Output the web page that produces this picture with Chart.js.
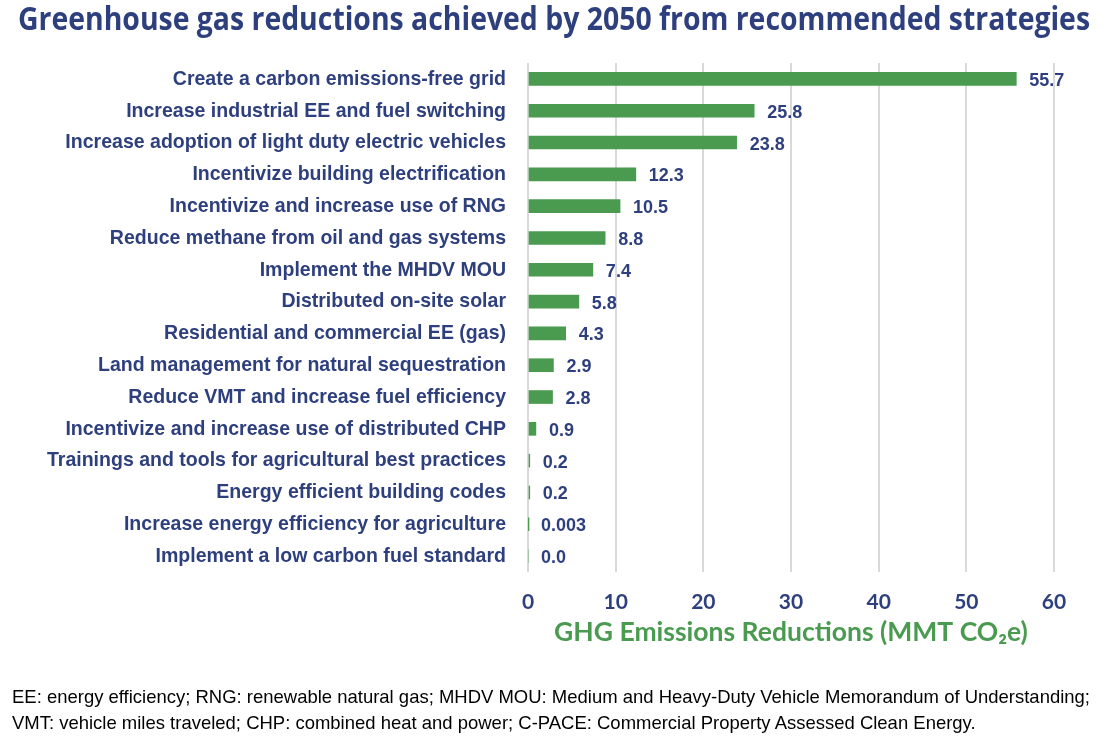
<!DOCTYPE html>
<html>
<head>
<meta charset="utf-8">
<script src="https://cdn.jsdelivr.net/npm/chart.js@4"></script>
<style>
html,body{margin:0;padding:0;background:#fff;}
#wrap{position:relative;width:1109px;height:747px;overflow:hidden;}
#foot{position:absolute;left:12px;top:684px;font-family:"Liberation Sans",Arial,sans-serif;font-size:19px;line-height:26px;color:#000;white-space:nowrap;transform-origin:0 0;}
</style>
</head>
<body>
<div id="wrap">
<canvas id="c" width="1109" height="747"></canvas>
<div id="foot"><span id="f1">EE: energy efficiency; RNG: renewable natural gas; MHDV MOU: Medium and Heavy-Duty Vehicle Memorandum of Understanding;</span><br>VMT: vehicle miles traveled; CHP: combined heat and power; C-PACE: Commercial Property Assessed Clean Energy.</div>
</div>
<script>
const chartTitle = "Greenhouse gas reductions achieved by 2050 from recommended strategies";
const categories = [
  "Create a carbon emissions-free grid",
  "Increase industrial EE and fuel switching",
  "Increase adoption of light duty electric vehicles",
  "Incentivize building electrification",
  "Incentivize and increase use of RNG",
  "Reduce methane from oil and gas systems",
  "Implement the MHDV MOU",
  "Distributed on-site solar",
  "Residential and commercial EE (gas)",
  "Land management for natural sequestration",
  "Reduce VMT and increase fuel efficiency",
  "Incentivize and increase use of distributed CHP",
  "Trainings and tools for agricultural best practices",
  "Energy efficient building codes",
  "Increase energy efficiency for agriculture",
  "Implement a low carbon fuel standard"
];
const values = [55.7, 25.8, 23.8, 12.3, 10.5, 8.8, 7.4, 5.8, 4.3, 2.9, 2.8, 0.9, 0.2, 0.2, 0.003, 0.0];
const valueLabels = ["55.7","25.8","23.8","12.3","10.5","8.8","7.4","5.8","4.3","2.9","2.8","0.9","0.2","0.2","0.003","0.0"];
const xTicks = [0, 10, 20, 30, 40, 50, 60];

const NAVY = "#2e3f7d";
const GREEN = "#4a9b50";
const ARIAL = '"Liberation Sans", Arial, sans-serif';

(function(){
  const f = document.getElementById("foot");
  const w = document.getElementById("f1").getBoundingClientRect().width;
  f.style.transform = "scaleX(" + (1078 / w) + ")";
})();

const textPlugin = {
  id: "texts",
  afterDatasetsDraw(chart) {
    const ctx = chart.ctx;
    const meta = chart.getDatasetMeta(0);
    const yScale = chart.scales.y;
    ctx.save();
    ctx.font = "bold 18px " + ARIAL;
    ctx.fillStyle = NAVY;
    ctx.textAlign = "left";
    ctx.textBaseline = "middle";
    meta.data.forEach((bar, i) => {
      ctx.fillText(valueLabels[i], bar.x + 13, bar.y + 2);
    });
    ctx.font = "bold 21px " + ARIAL;
    ctx.textAlign = "right";
    categories.forEach((c, i) => {
      const y = yScale.getPixelForTick(i);
      ctx.save();
      ctx.translate(chart.chartArea.left - 22, y);
      ctx.scale(0.93, 1);
      ctx.fillText(c, 0, 0);
      ctx.restore();
    });
    ctx.font = 'bold 32px "Open Sans", sans-serif';
    ctx.textAlign = "center";
    const tw = ctx.measureText(chartTitle).width;
    ctx.save();
    ctx.translate(554, 21);
    ctx.scale(1072 / tw, 1);
    ctx.fillText(chartTitle, 0, 0);
    ctx.restore();
    ctx.restore();
  }
};

new Chart(document.getElementById("c"), {
  type: "bar",
  data: {
    labels: categories,
    datasets: [{
      data: values,
      backgroundColor: GREEN,
      barThickness: 13,
      borderWidth: 0
    }]
  },
  plugins: [textPlugin],
  options: {
    indexAxis: "y",
    responsive: false,
    animation: false,
    layout: { padding: { left: 0, right: 55, top: 63, bottom: 95 } },
    plugins: {
      legend: { display: false },
      tooltip: { enabled: false },
      title: { display: false }
    },
    scales: {
      x: {
        min: 0, max: 60,
        afterBuildTicks(scale) { scale.ticks = xTicks.map(v => ({ value: v })); },
        afterFit(scale) { scale.height = 80; },
        grid: { color: "#d9d9d9", lineWidth: 2, drawTicks: false },
        border: { display: false },
        ticks: {
          color: NAVY,
          padding: 18,
          font: { family: "Lato, sans-serif", size: 21, weight: "bold" }
        },
        title: {
          display: true,
          text: "GHG Emissions Reductions (MMT CO\u2082e)",
          color: GREEN,
          font: { family: "Lato, sans-serif", size: 26.5, weight: "bold" },
          padding: { top: 0, bottom: 4 }
        }
      },
      y: {
        afterFit(scale) { scale.width = 528; },
        grid: { display: false, drawTicks: false },
        border: { display: false },
        ticks: { display: false }
      }
    }
  }
});
</script>
</body>
</html>
